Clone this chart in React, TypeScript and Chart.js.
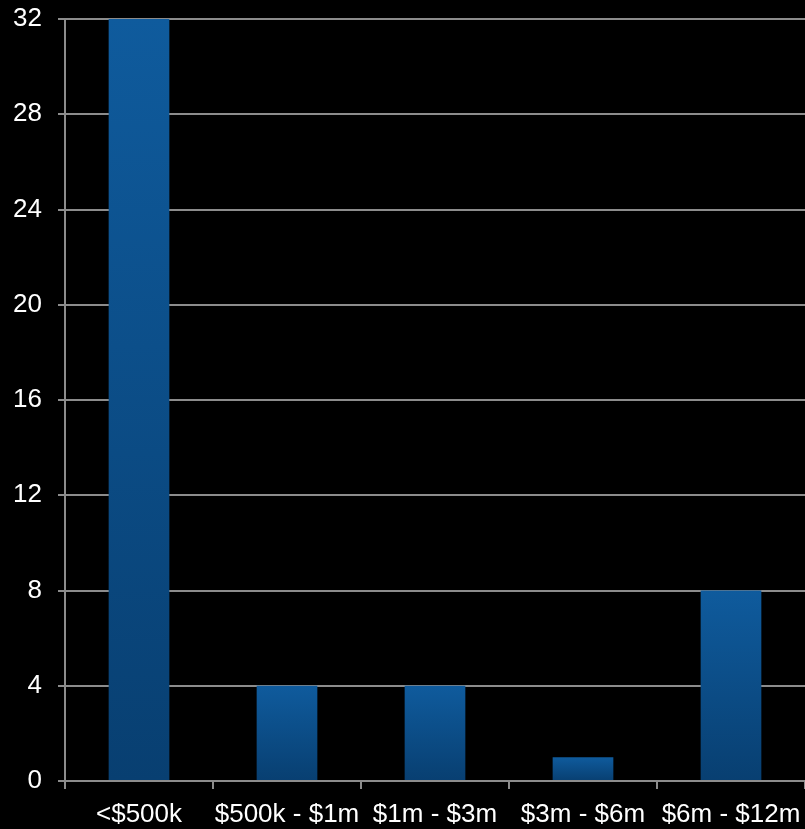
import React, { useEffect, useRef } from "react";
import { Chart, registerables } from "chart.js";

Chart.register(...registerables);

const categories = ["<$500k", "$500k - $1m", "$1m - $3m", "$3m - $6m", "$6m - $12m"];
const values = [32, 4, 4, 1, 8];
const yTicks = [0, 4, 8, 12, 16, 20, 24, 28, 32];

const GRID = "#8c8c8c";
const FONT = "'Liberation Sans', Arial, sans-serif";

const bgPlugin = {
  id: "bg",
  beforeDraw(chart: any) {
    const { ctx, width, height } = chart;
    ctx.save();
    ctx.fillStyle = "#000000";
    ctx.fillRect(0, 0, width, height);
    ctx.restore();
  },
};

export default function App() {
  const ref = useRef<HTMLCanvasElement | null>(null);

  useEffect(() => {
    document.body.style.margin = "0";
    document.body.style.background = "#000";
    const canvas = ref.current!;
    const chart = new Chart(canvas, {
      type: "bar",
      data: {
        labels: categories,
        datasets: [
          {
            data: values,
            backgroundColor: (c: any) => {
              const chartObj = c.chart;
              const y = chartObj.scales?.y;
              if (!y || c.raw === undefined) return "#0d5796";
              const top = y.getPixelForValue(c.raw);
              const base = y.getPixelForValue(0);
              if (!isFinite(top) || !isFinite(base) || top === base) return "#0d5796";
              const g = chartObj.ctx.createLinearGradient(0, top, 0, base);
              g.addColorStop(0, "#0f5b9d");
              g.addColorStop(1, "#083f71");
              return g;
            },
            borderWidth: 0,
            barPercentage: 0.41,
            categoryPercentage: 1,
          },
        ],
      },
      options: {
        animation: false,
        responsive: false,
        maintainAspectRatio: false,
        layout: { padding: { top: 19, right: 0, left: 0, bottom: 0 } },
        plugins: { legend: { display: false }, tooltip: { enabled: false } },
        scales: {
          x: {
            offset: true,
            afterFit: (axis: any) => {
              axis.height = 48;
              axis.paddingLeft = 0;
              axis.paddingRight = 0;
              axis.paddingTop = 0;
              axis.paddingBottom = 0;
            },
            grid: {
              offset: true,
              display: true,
              drawOnChartArea: false,
              color: GRID,
              lineWidth: 2,
              tickLength: 8,
            },
            border: { color: GRID, width: 2 },
            ticks: {
              color: "#ffffff",
              font: { family: FONT, size: 26 },
              padding: 10,
              maxRotation: 0,
              autoSkip: false,
            },
          },
          y: {
            min: 0,
            max: 32,
            afterBuildTicks: (axis: any) => {
              axis.ticks = yTicks.map((v) => ({ value: v }));
            },
            afterFit: (axis: any) => {
              axis.width = 65;
              axis.paddingTop = 0;
              axis.paddingBottom = 0;
              axis.paddingLeft = 0;
              axis.paddingRight = 0;
            },
            grid: { color: GRID, lineWidth: 2, tickLength: 7 },
            border: { color: GRID, width: 2 },
            ticks: {
              color: "#ffffff",
              font: { family: FONT, size: 26 },
              padding: 16,
            },
          },
        },
      },
      plugins: [bgPlugin],
    });
    return () => chart.destroy();
  }, []);

  return (
    <div style={{ width: 805, height: 829, background: "#000" }}>
      <canvas ref={ref} width={805} height={829} style={{ display: "block" }} />
    </div>
  );
}
